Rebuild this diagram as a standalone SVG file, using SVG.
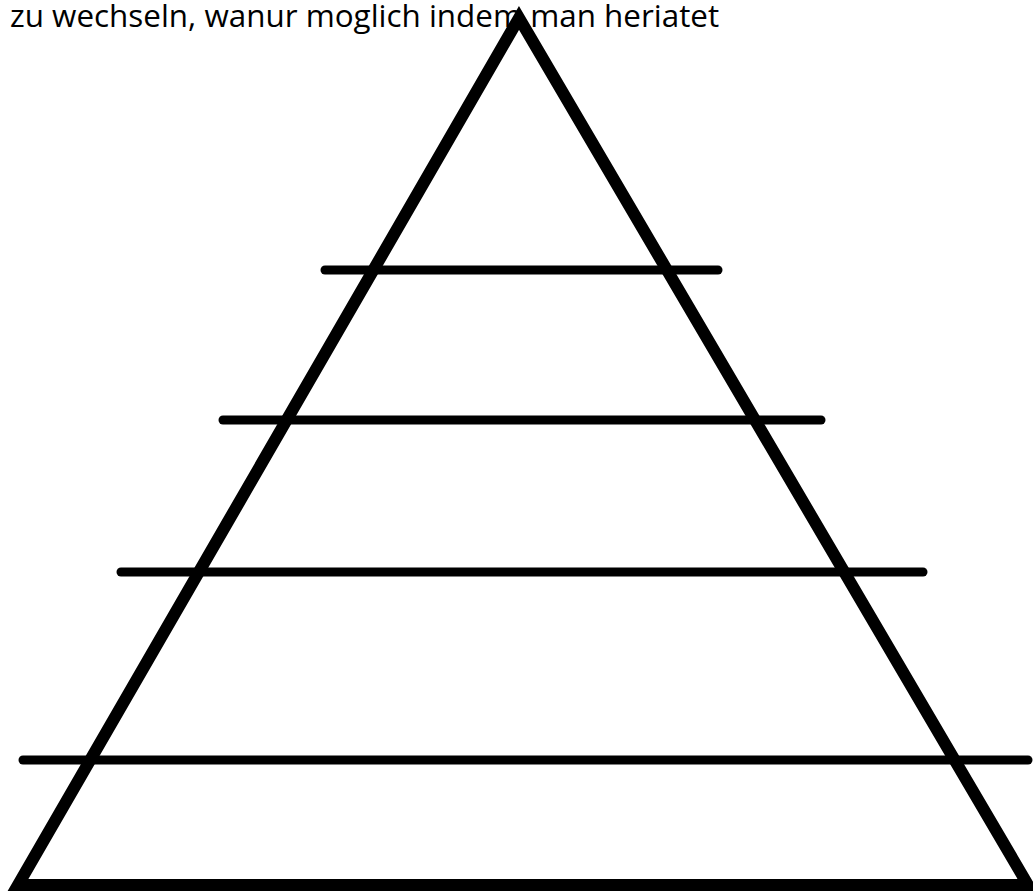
<svg xmlns="http://www.w3.org/2000/svg" width="1033" height="894" viewBox="0 0 1033 894">
<style>
.t{font-family:"Open Sans","Noto Sans",sans-serif;font-size:31.4px;fill:#000}
.tri{fill:none;stroke:#000;stroke-width:12;stroke-linejoin:miter}
.bar{stroke:#000;stroke-width:9;stroke-linecap:round}
</style>
<rect width="1033" height="894" fill="#fff"/>
<text class="t" x="10" y="27">zu wechseln, wanur moglich indem man heriatet</text>
<g id="pyramid"><polygon class="tri" points="519,18 18,885 1028,885"/></g>
<g id="connectors">
<line class="bar" x1="325" y1="270" x2="718" y2="270"/>
<line class="bar" x1="223" y1="420" x2="821" y2="420"/>
<line class="bar" x1="121" y1="572" x2="923" y2="572"/>
<line class="bar" x1="23" y1="760" x2="1028" y2="760"/>
</g>
</svg>
